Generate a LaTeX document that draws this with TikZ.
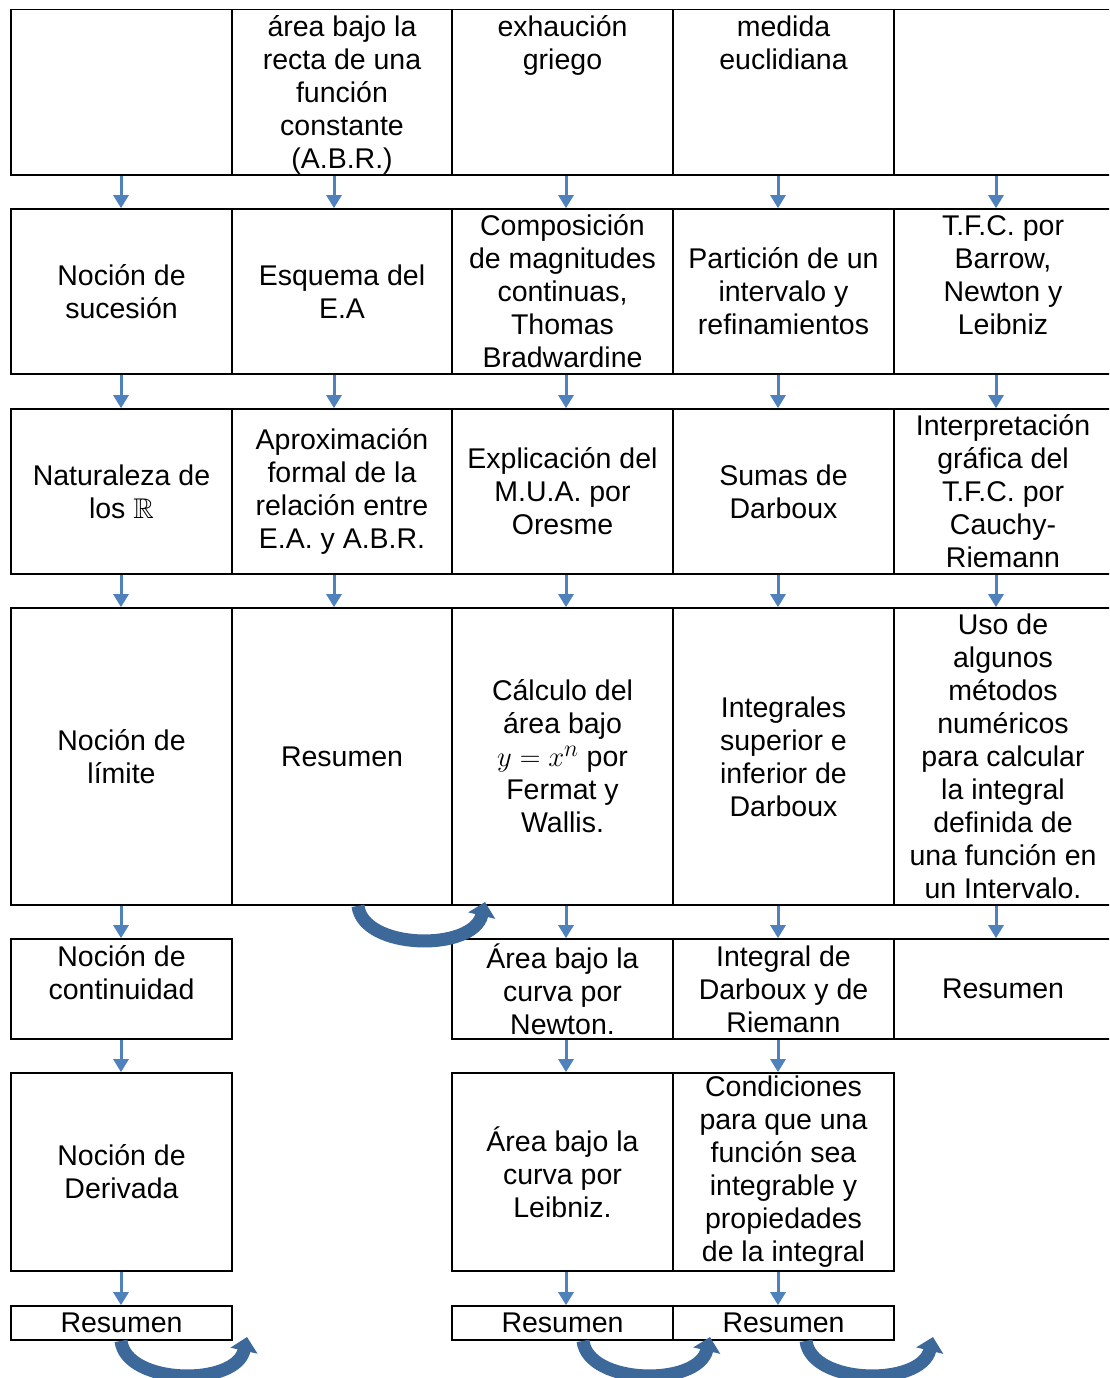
\documentclass[tikz,border=0pt]{standalone}
\usepackage{amssymb}
\usepackage{fontspec}
\setmainfont{Liberation Sans}
\usetikzlibrary{arrows.meta}
\definecolor{arrowblue}{RGB}{79,129,189}
\definecolor{bandblue}{RGB}{61,104,154}
\begin{document}
\begin{tikzpicture}[x=1pt,y=-1pt,
  cell/.style={draw=black, line width=1.7pt, rectangle, inner sep=0pt, align=center,
    font=\fontsize{28.5}{33}\selectfont},
  txt/.style={inner sep=0pt, align=center, font=\fontsize{28.5}{33}\selectfont},
  wa/.style={minimum width=221pt}, wb/.style={minimum width=220pt}, we/.style={minimum width=218pt},
  ha/.style={minimum height=165.5pt}, hb/.style={minimum height=165pt},
  hd/.style={minimum height=297pt}, hf/.style={minimum height=100pt},
  hg/.style={minimum height=198pt}, hh/.style={minimum height=34pt},
  down/.style={draw=arrowblue, line width=3pt, -{Triangle[width=15pt,length=13pt]}},
  band/.style={draw=bandblue, line width=13pt, -{Triangle[width=27pt,length=14pt]}}]
\useasboundingbox (0,0) rectangle (1109,1378);
\fill[white] (0,0) rectangle (1109,1378);
\clip (0,0) rectangle (1109,1378);
% Row 1
\node[cell,wa,ha] (r1c1) at (121.5,92.25) {};
\node[cell,wb,ha] (r1c2) at (342,92.25) {};
\node[txt] (t12) at (342,94.5) {área bajo la\\recta de una\\función\\constante\\(A.B.R.)};
\node[cell,wa,ha] (r1c3) at (562.5,92.25) {};
\node[cell,wa,ha] (r1c4) at (783.5,92.25) {};
\node[cell,we,ha] (r1c5) at (1003,92.25) {};
\node[txt] (t13) at (562.5,45) {exhaución\\griego};
\node[txt] (t14) at (783.5,43) {medida\\euclidiana};
% Row 2
\node[cell,wa,hb] (r2c1) at (121.5,291.5) {Noción de\\sucesión};
\node[cell,wb,hb] (r2c2) at (342,291.5) {Esquema del\\E.A};
\node[cell,wa,hb] (r2c3) at (562.5,291.5) {Composición\\de magnitudes\\continuas,\\Thomas\\Bradwardine};
\node[cell,wa,hb] (r2c4) at (783.5,291.5) {Partición de un\\intervalo y\\refinamientos};
\node[cell,we,hb] (r2c5) at (1003,291.5) {};
\node[txt] (t25) at (1003,275) {T.F.C. por\\Barrow,\\Newton y\\Leibniz};
% Row 3
\node[cell,wa,hb] (r3c1) at (121.5,491.5) {Naturaleza de\\los $\mathbb{R}$};
\node[cell,wb,hb] (r3c2) at (342,491.5) {Aproximación\\formal de la\\relación entre\\E.A. y A.B.R.};
\node[cell,wa,hb] (r3c3) at (562.5,491.5) {Explicación del\\M.U.A. por\\Oresme};
\node[cell,wa,hb] (r3c4) at (783.5,491.5) {Sumas de\\Darboux};
\node[cell,we,hb] (r3c5) at (1003,491.5) {Interpretación\\gráfica del\\T.F.C. por\\Cauchy-\\Riemann};
% Row 4
\node[cell,wa,hd] (r4c1) at (121.5,756.5) {Noción de\\límite};
\node[cell,wb,hd] (r4c2) at (342,756.5) {Resumen};
\node[cell,wa,hd] (r4c3) at (562.5,756.5) {Cálculo del\\área bajo\\\scalebox{1.15}{$y=x^n$} por\\Fermat y\\Wallis.};
\node[cell,wa,hd] (r4c4) at (783.5,756.5) {Integrales\\superior e\\inferior de\\Darboux};
\node[cell,we,hd] (r4c5) at (1003,756.5) {Uso de\\algunos\\métodos\\numéricos\\para calcular\\la integral\\definida de\\una función en\\un Intervalo.};
% Row 5
\node[cell,wa,hf] (r5c1) at (121.5,989) {};
\node[txt] (t51) at (121.5,972.5) {Noción de\\continuidad};
\node[cell,wa,hf] (r5c3) at (562.5,989) {Área bajo la\\curva por\\Newton.};
\node[cell,wa,hf] (r5c4) at (783.5,989) {Integral de\\Darboux y de\\Riemann};
\node[cell,we,hf] (r5c5) at (1003,989) {Resumen};
% Row 6
\node[cell,wa,hg] (r6c1) at (121.5,1172) {Noción de\\Derivada};
\node[cell,wa,hg] (r6c3) at (562.5,1172) {Área bajo la\\curva por\\Leibniz.};
\node[cell,wa,hg] (r6c4) at (783.5,1172) {Condiciones\\para que una\\función sea\\integrable y\\propiedades\\de la integral};
% Row 7
\node[cell,wa,hh] (r7c1) at (121.5,1323) {Resumen};
\node[cell,wa,hh] (r7c3) at (562.5,1323) {Resumen};
\node[cell,wa,hh] (r7c4) at (783.5,1323) {Resumen};
% straight arrows
\foreach \a/\b/\dx in {r1c1/r2c1/-0.5, r1c2/r2c2/-8, r1c3/r2c3/3.5, r1c4/r2c4/-5.5, r1c5/r2c5/-7,
  r2c1/r3c1/-0.5, r2c2/r3c2/-8, r2c3/r3c3/3.5, r2c4/r3c4/-5.5, r2c5/r3c5/-7,
  r3c1/r4c1/-0.5, r3c2/r4c2/-8, r3c3/r4c3/3.5, r3c4/r4c4/-5.5, r3c5/r4c5/-7,
  r4c1/r5c1/-0.5, r4c3/r5c3/3.5, r4c4/r5c4/-5.5, r4c5/r5c5/-7,
  r5c1/r6c1/-0.5, r5c3/r6c3/3.5, r5c4/r6c4/-5.5,
  r6c1/r7c1/-0.5, r6c3/r7c3/3.5, r6c4/r7c4/-5.5}
  \draw[down] ([xshift=\dx pt]\a.south) -- ([xshift=\dx pt]\b.north);
% curved arrows
\coordinate (e1) at (485,902);
\coordinate (e2) at (247,1337);
\coordinate (e3) at (710,1337);
\coordinate (e4) at (933,1337);
\draw[band] ([xshift=16pt]r4c2.south) .. controls (363,950) and (473,952) .. (e1);
\draw[band] ([xshift=-0.5pt]r7c1.south) .. controls (126,1385) and (236,1387) .. (e2);
\draw[band] ([xshift=20.5pt]r7c3.south) .. controls (588,1385) and (698,1387) .. (e3);
\draw[band] ([xshift=22.5pt]r7c4.south) .. controls (811,1385) and (921,1387) .. (e4);
\end{tikzpicture}
\end{document}
